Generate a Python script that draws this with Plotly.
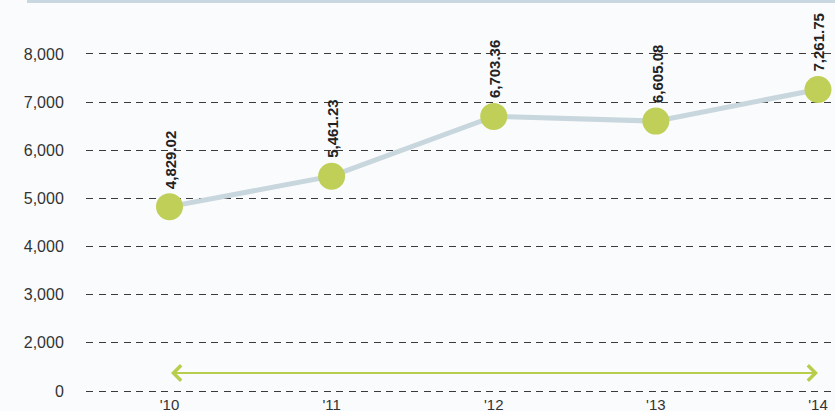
import plotly.graph_objects as go

categories = ["'10", "'11", "'12", "'13", "'14"]
values = [4829.02, 5461.23, 6703.36, 6605.08, 7261.75]
value_labels = ["4,829.02", "5,461.23", "6,703.36", "6,605.08", "7,261.75"]
ytick_vals = [1000, 2000, 3000, 4000, 5000, 6000, 7000, 8000]
ytick_text = ["0", "2,000", "3,000", "4,000", "5,000", "6,000", "7,000", "8,000"]

xs = list(range(len(categories)))
BG = "#fafbfd"
FONT = "Liberation Sans, Arial, sans-serif"
PX_PER_UNIT = 0.04817  # pixels per data unit on the y axis

fig = go.Figure()
fig.add_trace(go.Scatter(
    x=xs, y=values, mode="lines+markers",
    line=dict(color="#c8d6dd", width=5),
    marker=dict(size=27, color="#bfcf57", line=dict(width=0)),
    cliponaxis=False, hoverinfo="skip",
))

annotations = []
for x, v, t in zip(xs, values, value_labels):
    annotations.append(dict(
        x=x, y=v, xref="x", yref="y", text="<b>%s</b>" % t, showarrow=False,
        textangle=-90, yanchor="bottom", xanchor="center", yshift=16, xshift=1,
        font=dict(family=FONT, size=15, color="#222222"),
    ))

# double-headed range arrow spanning all categories
annotations.append(dict(
    x=xs[-1], y=1374, ax=xs[0], ay=1374, xref="x", yref="y", axref="x", ayref="y",
    text="", showarrow=True, arrowhead=4, startarrowhead=4, arrowside="end+start",
    arrowsize=1.5, startarrowsize=1.5, arrowwidth=2, arrowcolor="#b9cd4c",
    standoff=0, startstandoff=0,
))

PLOT_BOTTOM = 394
fig.update_layout(
    width=835, height=411,
    margin=dict(l=86, r=0, t=0, b=411 - PLOT_BOTTOM),
    paper_bgcolor=BG, plot_bgcolor=BG,
    showlegend=False,
    annotations=annotations,
    shapes=[dict(type="rect", xref="paper", yref="paper",
                 x0=(27 - 86) / 749, x1=1, y0=(PLOT_BOTTOM - 3) / PLOT_BOTTOM, y1=1.02,
                 fillcolor="#c9d8e0", line=dict(width=0), layer="above")],
    xaxis=dict(
        range=[-0.515, 4.105], tickvals=xs, ticktext=categories,
        showgrid=False, zeroline=False, showline=False,
        ticks="", ticklen=0,
        tickfont=dict(family=FONT, size=15, color="#333333"),
        automargin=False, fixedrange=True,
    ),
    yaxis=dict(
        range=[1000 - (PLOT_BOTTOM - 391) / PX_PER_UNIT, 2000 + 343 / PX_PER_UNIT],
        tickvals=ytick_vals, ticktext=ytick_text,
        showgrid=True, gridcolor="#3a3a3a", gridwidth=1, griddash="7px,5.5px",
        zeroline=False, showline=False,
        ticks="outside", ticklen=18, tickcolor="rgba(0,0,0,0)",
        tickfont=dict(family=FONT, size=16, color="#333333"),
        automargin=False, fixedrange=True,
    ),
)

fig.write_html("out.html")
